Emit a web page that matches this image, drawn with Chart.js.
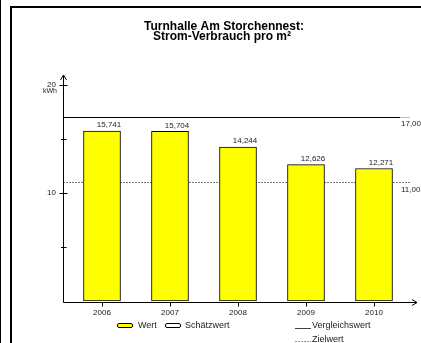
<!DOCTYPE html>
<html>
<head>
<meta charset="utf-8">
<title>Turnhalle Am Storchennest</title>
<script src="https://cdn.jsdelivr.net/npm/chart.js@4.4.1/dist/chart.umd.min.js"></script>
<style>
html, body { margin: 0; padding: 0; background: #fff; }
canvas { display: block; }
</style>
</head>
<body>
<canvas id="barChart" width="421" height="343"></canvas>
<script>
const years = ['2006', '2007', '2008', '2009', '2010'];
const wert = [15.741, 15.704, 14.244, 12.626, 12.271];
const vergleichswert = 17;
const zielwert = 11;
const yLabelTicks = [10, 20];
const titleLines = ['Turnhalle Am Storchennest:', 'Strom-Verbrauch pro m²'];
const legendLabels = ['Wert', 'Schätzwert', 'Vergleichswert', 'Zielwert'];

const FONT = "'Liberation Sans', Arial, sans-serif";

function fmt(v, digits)
{
    return v.toFixed(digits).replace('.', ',');
}

function line(ctx, x1, y1, x2, y2)
{
    ctx.beginPath();
    ctx.moveTo(x1, y1);
    ctx.lineTo(x2, y2);
    ctx.stroke();
}

const decorations = {
    id: 'decorations',
    beforeDraw(chart)
    {
        const ctx = chart.ctx;
        ctx.save();
        ctx.fillStyle = '#fff';
        ctx.fillRect(0, 0, chart.width, chart.height);
        ctx.restore();
    },
    beforeDatasetsDraw(chart)
    {
        // reference lines sit behind the bars
        const ctx = chart.ctx;
        const y = chart.scales.y;
        const area = chart.chartArea;
        const x0 = area.left - 5;
        ctx.save();
        ctx.lineWidth = 1;

        const yv = Math.round(y.getPixelForValue(vergleichswert)) + 0.5;
        ctx.strokeStyle = '#000';
        line(ctx, x0, yv, area.right - 8, yv);
        ctx.strokeStyle = '#bbb';
        line(ctx, area.right - 8, yv, area.right + 2, yv);

        const yz = Math.round(y.getPixelForValue(zielwert)) + 0.5;
        ctx.strokeStyle = '#777';
        ctx.setLineDash([2, 1]);
        line(ctx, x0, yz, area.right + 2, yz);
        ctx.setLineDash([]);

        ctx.fillStyle = '#222';
        ctx.font = '8px ' + FONT;
        ctx.textAlign = 'left';
        ctx.textBaseline = 'middle';
        ctx.fillText(fmt(vergleichswert, 2), area.right - 7, yv + 6);
        ctx.fillText(fmt(zielwert, 2), area.right - 7, yz + 7);
        ctx.restore();
    },
    afterDatasetsDraw(chart)
    {
        const ctx = chart.ctx;
        const meta = chart.getDatasetMeta(0);
        ctx.save();
        ctx.fillStyle = '#222';
        ctx.font = '8px ' + FONT;
        ctx.textAlign = 'center';
        ctx.textBaseline = 'middle';
        meta.data.forEach((bar, i) =>
        {
            ctx.fillText(fmt(wert[i], 3), bar.x + 7, bar.y - 6);
        });
        ctx.restore();
    },
    afterDraw(chart)
    {
        const ctx = chart.ctx;
        const x = chart.scales.x;
        const y = chart.scales.y;
        const area = chart.chartArea;
        const ax = area.left - 5 + 0.5;
        const ay = area.bottom + 1.5;

        ctx.save();

        // frame
        ctx.fillStyle = '#000';
        ctx.fillRect(0, 0, 1, chart.height);
        ctx.fillRect(10, 6, 2, chart.height - 6);
        ctx.fillRect(10, 6, chart.width - 10, 2);

        // title
        ctx.font = 'bold 12px ' + FONT;
        ctx.textAlign = 'center';
        ctx.textBaseline = 'alphabetic';
        ctx.fillText(titleLines[0], 224, 30);
        ctx.fillText(titleLines[1], 222, 40);

        // axes with arrows
        ctx.strokeStyle = '#000';
        ctx.lineWidth = 1;
        line(ctx, ax, ay, ax, 75);
        ctx.beginPath();
        ctx.moveTo(ax - 3, 80);
        ctx.lineTo(ax, 75);
        ctx.lineTo(ax + 3, 80);
        ctx.stroke();

        line(ctx, ax, ay, 417, ay);
        ctx.beginPath();
        ctx.moveTo(412, ay - 3);
        ctx.lineTo(417, ay);
        ctx.lineTo(412, ay + 3);
        ctx.stroke();

        // y ticks crossing the axis
        y.ticks.forEach(t =>
        {
            if (t.value === 0) return;
            const py = Math.round(y.getPixelForValue(t.value)) + 0.5;
            const major = yLabelTicks.includes(t.value);
            line(ctx, ax - (major ? 4 : 2.5), py, ax + (major ? 4 : 3), py);
        });

        // x ticks
        years.forEach((label, i) =>
        {
            const px = Math.round(x.getPixelForValue(i)) + 0.5;
            line(ctx, px, ay, px, ay + 4);
        });

        // unit
        ctx.fillStyle = '#222';
        ctx.font = '7px ' + FONT;
        ctx.textAlign = 'right';
        ctx.textBaseline = 'middle';
        ctx.fillText('kWh', 57, 91);

        // legend
        ctx.font = '9px ' + FONT;
        ctx.textAlign = 'left';
        ctx.lineWidth = 1;
        ctx.strokeStyle = '#000';

        ctx.fillStyle = '#ffff00';
        ctx.beginPath();
        ctx.roundRect(117.5, 323.5, 15, 4, 1.5);
        ctx.fill();
        ctx.stroke();
        ctx.fillStyle = '#222';
        ctx.fillText(legendLabels[0], 138, 326);

        ctx.fillStyle = '#fff';
        ctx.beginPath();
        ctx.roundRect(165.5, 323.5, 15, 4, 1.5);
        ctx.fill();
        ctx.stroke();
        ctx.fillStyle = '#222';
        ctx.fillText(legendLabels[1], 185, 326);

        ctx.strokeStyle = '#444';
        line(ctx, 295, 328.5, 311, 328.5);
        ctx.fillText(legendLabels[2], 312, 326);

        ctx.strokeStyle = '#999';
        ctx.setLineDash([2, 1]);
        line(ctx, 295, 341.5, 311, 341.5);
        ctx.setLineDash([]);
        ctx.fillText(legendLabels[3], 312, 340);

        ctx.restore();
    }
};

new Chart(document.getElementById('barChart'), {
    type: 'bar',
    data: {
        labels: years,
        datasets: [
            {
                label: 'Wert',
                data: wert,
                backgroundColor: '#ffff00',
                borderColor: '#000',
                borderWidth: 1,
                borderSkipped: false,
                barThickness: 37
            }
        ]
    },
    options: {
        responsive: false,
        animation: false,
        devicePixelRatio: 1,
        layout: {
            padding: { left: 0, right: 13, top: 85, bottom: 22 }
        },
        plugins: {
            legend: { display: false },
            title: { display: false },
            tooltip: { enabled: false }
        },
        scales: {
            x: {
                grid: { display: false, drawTicks: false },
                border: { display: false },
                ticks: {
                    color: '#222',
                    padding: 7,
                    font: { family: FONT, size: 8 }
                },
                afterFit(scale) { scale.height = 20; }
            },
            y: {
                min: 0,
                max: 20,
                grid: { display: false, drawTicks: false },
                border: { display: false },
                ticks: {
                    stepSize: 5,
                    padding: 12,
                    color: '#222',
                    font: { family: FONT, size: 8 },
                    callback: v => yLabelTicks.includes(v) ? String(v) : ''
                },
                afterFit(scale) { scale.width = 68; }
            }
        }
    },
    plugins: [decorations]
});
</script>
</body>
</html>
